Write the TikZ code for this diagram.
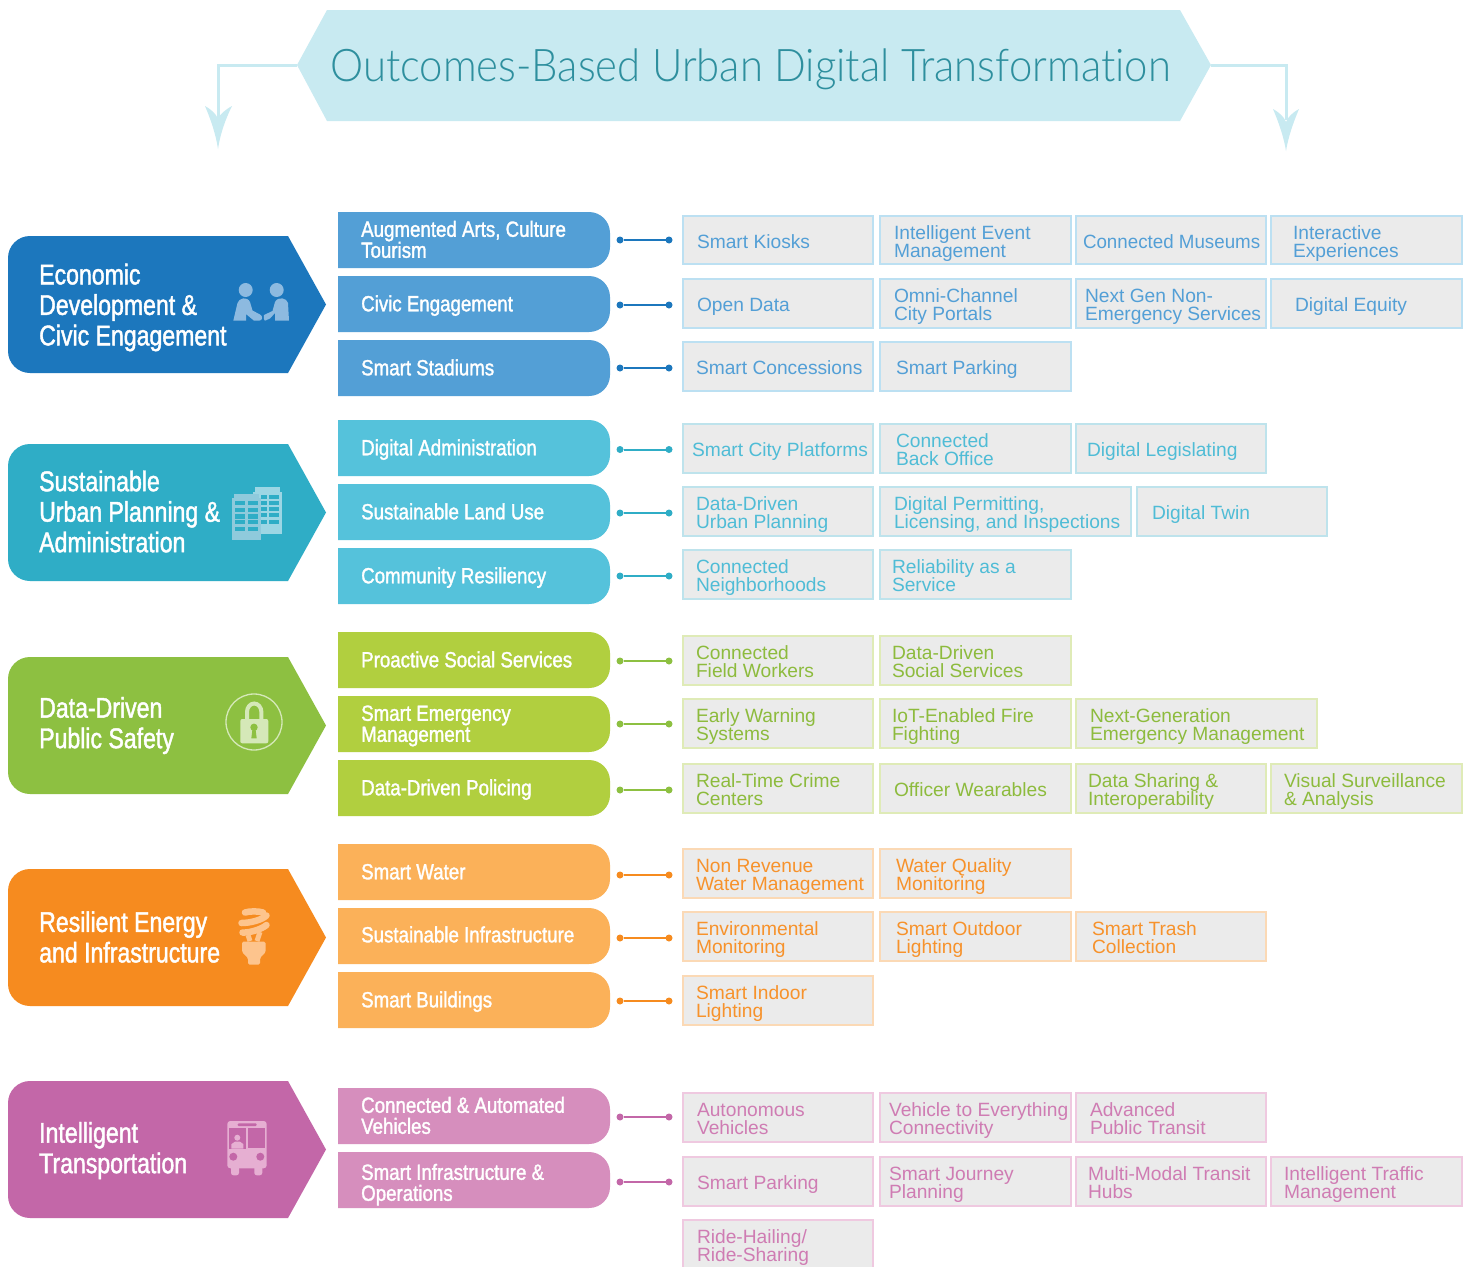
\documentclass[tikz,border=0pt]{standalone}
\usepackage{fontspec}
\setmainfont{Liberation Sans}
\newfontfamily\condf[FakeStretch=0.81,FakeBold=1.5]{Liberation Sans}
\newfontfamily\condm[FakeStretch=0.85,FakeBold=1.5]{Liberation Sans}
\newfontfamily\titlef[UprightFont=* Light,FakeStretch=0.93,Ligatures=NoCommon]{Lato}
\newcommand{\leftfont}{\condf\fontsize{28.5}{30.5}\selectfont}
\newcommand{\midfont}{\condm\fontsize{22}{21}\selectfont}
\newcommand{\boxfont}{\fontsize{19.2}{18}\selectfont}
\definecolor{tfill}{HTML}{C8EAF1}
\definecolor{ttext}{HTML}{2E8F9E}
\definecolor{g1a}{HTML}{1C77BD}\definecolor{g1p}{HTML}{539FD6}\definecolor{g1t}{HTML}{539FD6}\definecolor{g1b}{HTML}{BCE0F2}\definecolor{g1i}{HTML}{8DBAE0}
\definecolor{g2a}{HTML}{2FADC6}\definecolor{g2p}{HTML}{55C2DB}\definecolor{g2t}{HTML}{4FBCD6}\definecolor{g2b}{HTML}{BEE3EC}\definecolor{g2i}{HTML}{8FCADC}\definecolor{g2j}{HTML}{9CD6E4}
\definecolor{g3a}{HTML}{8DC041}\definecolor{g3p}{HTML}{B1CF3F}\definecolor{g3t}{HTML}{8DBB3D}\definecolor{g3b}{HTML}{DFEBB7}\definecolor{g3i}{HTML}{D5E8B8}
\definecolor{g4a}{HTML}{F68B1F}\definecolor{g4p}{HTML}{FBB159}\definecolor{g4t}{HTML}{F7922B}\definecolor{g4b}{HTML}{FBD9B5}\definecolor{g4i}{HTML}{FDC48D}
\definecolor{g5a}{HTML}{C367A8}\definecolor{g5p}{HTML}{D68EBD}\definecolor{g5t}{HTML}{CF7CB3}\definecolor{g5b}{HTML}{EFC9E0}\definecolor{g5i}{HTML}{E6AFD2}
\definecolor{boxfill}{HTML}{EBEBEB}
\tikzset{
  itembox/.style={rectangle,fill=boxfill,line width=2pt,inner sep=0pt,outer sep=0pt,font=\boxfont},
  dotnode/.style={circle,inner sep=0pt,minimum size=7pt,outer sep=0pt},
  conn/.style={line width=2pt},
  midlabel/.style={anchor=west,inner sep=0pt,text=white,font=\midfont},
  leftlabel/.style={anchor=west,inner sep=0pt,text=white,font=\leftfont},
  flowline/.style={tfill,line width=3pt}
}
% fixed-metric text block: #1 left inset, #2 width, #3 text
\newcommand{\tblock}[3]{\parbox[c]{#2}{\leftskip=#1\relax\rightskip=-60pt plus 1fil\relax\parindent=0pt\rule{0pt}{21pt}#3\rule[-5pt]{0pt}{5pt}\par}}
% id, x1, x2, y1, y2, text x, text
\newcommand{\bx}[7]{%
  \pgfmathsetmacro{\bw}{#3-#2}\pgfmathsetmacro{\bh}{#5-#4}\pgfmathsetmacro{\bi}{#6-#2}%
  \pgfmathsetmacro{\cx}{(#2+#3)/2}\pgfmathsetmacro{\cy}{(#4+#5)/2}%
  \node[itembox,draw=\gc b,text=\gc t,minimum width=\bw pt,minimum height=\bh pt] (#1) at (\cx,\cy)
    {\tblock{\bi pt}{\bw pt}{#7}};}
\def\pshift{0}
% id, top, connector y, text
\newcommand{\pill}[4]{%
  \pgfmathsetmacro{\pb}{#2+56}\pgfmathsetmacro{\pm}{#2+27.3+\pshift}%
  \fill[\gc p] (338,#2) [rounded corners=21pt] -- (610,#2) -- (610,\pb) [sharp corners] -- (338,\pb) -- cycle;
  \node[midlabel] (#1) at (361,\pm) {\tblock{0pt}{240pt}{#4}};
  \node[dotnode,fill=\gc a] (#1-a) at (620,#3) {};
  \node[dotnode,fill=\gc a] (#1-b) at (669,#3) {};
  \draw[conn,\gc a] (#1-a) -- (#1-b);}
% id, top, text y, text
\newcommand{\gro}[4]{%
  \pgfmathsetmacro{\gb}{#2+137}\pgfmathsetmacro{\gm}{#2+68.5}%
  \fill[\gc a] (288,#2) -- (326,\gm) -- (288,\gb) [rounded corners=22pt] -- (8,\gb) -- (8,#2) [sharp corners] -- cycle;
  \node[leftlabel,align=left] (#1) at (39,#3) {#4};}
\begin{document}
\begin{tikzpicture}[x=1pt,y=-1pt]
\clip (0,0) rectangle (1472,1266);
\fill[white] (0,0) rectangle (1472,1266);
% title
\fill[tfill] (297,65) -- (327,10) -- (1180,10) -- (1211,65) -- (1180,121) -- (327,121) -- cycle;
\node[inner sep=0pt,text=ttext,font=\titlef\fontsize{45}{50}\selectfont] (title) at (750.5,69) {Outcomes-Based Urban Digital Transformation};
\coordinate (tl) at (297,65);\coordinate (tr) at (1211,65);
\coordinate (al) at (218,119);\coordinate (ar) at (1286,120);
\draw[flowline] (tl) -| (al);
\draw[flowline] (tr) -| (ar);
\fill[tfill] (205,106) .. controls (212,110) and (216,114) .. (218,119) .. controls (220,114) and (225,110) .. (232,106) .. controls (225,120) and (220,135) .. (218,149) .. controls (216,135) and (211,120) .. (205,106) -- cycle;
\fill[tfill] (1273,109) .. controls (1280,113) and (1284,117) .. (1286,122) .. controls (1288,117) and (1292,113) .. (1299,109) .. controls (1293,123) and (1288,138) .. (1286,151) .. controls (1284,138) and (1279,123) .. (1273,109) -- cycle;

% ---------- group 1
\def\gc{g1}
\gro{g1}{236}{307.5}{Economic\\Development \&\\Civic Engagement}
\fill[g1i] (245.7,290) circle (7);
\fill[g1i] (276.7,290) circle (7);
\fill[g1i] (233.3,320.7) -- (237.5,303) .. controls (239,298) and (247,296) .. (250,302) -- (252.5,310.5) -- (260,314.5) .. controls (263,316) and (263,320.7) .. (259,320.7) -- (254,320.7) -- (246,314) -- (246,320.7) -- cycle;
\fill[g1i] (289,320.7) -- (288,303) .. controls (287,298) and (278,296) .. (275,302) -- (272.5,311) -- (264,315) .. controls (263.5,317) and (264,320.7) .. (265,320.7) -- (270,318.5) -- (275,313) -- (275,320.7) -- cycle;
\pill{p11}{212}{240}{Augmented Arts, Culture\\Tourism}
\pill{p12}{276}{305}{Civic Engagement}
\pill{p13}{340}{368}{Smart Stadiums}
\bx{b111}{683}{873}{216}{264}{697}{Smart Kiosks}
\bx{b112}{880}{1071}{216}{264}{894}{Intelligent Event\\Management}
\bx{b113}{1076}{1266}{216}{264}{1083}{\scalebox{0.977}[1]{Connected Museums}}
\bx{b114}{1271}{1462}{216}{264}{1293}{Interactive\\Experiences}
\bx{b121}{683}{873}{279}{328}{697}{Open Data}
\bx{b122}{880}{1071}{279}{328}{894}{Omni-Channel\\City Portals}
\bx{b123}{1076}{1266}{279}{328}{1085}{Next Gen Non-\\Emergency Services}
\bx{b124}{1271}{1462}{279}{328}{1295}{Digital Equity}
\bx{b131}{683}{873}{342}{391}{696}{Smart Concessions}
\bx{b132}{880}{1071}{342}{391}{896}{Smart Parking}

% ---------- group 2
\def\gc{g2}
\gro{g2}{444}{511.5}{Sustainable\\Urban Planning \&\\Administration}
\fill[g2j] (255,487) rectangle (280,493);
\fill[g2j] (253.3,492.3) rectangle (281.7,534);
\foreach \yy/\yz in {495/499,500.7/504.7,506.7/511,513.3/517.3,519.7/524}{
  \fill[g2a] (261,\yy) rectangle (267,\yz);
  \fill[g2a] (269,\yy) rectangle (279.3,\yz);}
\fill[g2i] (234,494) rectangle (259.3,498);
\fill[g2i] (232,498) rectangle (261,540);
\foreach \yy/\yz in {501/505,507.7/512,514/519,520/524,527/531}{
  \fill[g2a] (235,\yy) rectangle (245,\yz);
  \fill[g2a] (248,\yy) rectangle (258,\yz);}
\pill{p21}{420}{449.5}{Digital Administration}
\pill{p22}{484}{513}{Sustainable Land Use}
\pill{p23}{548}{576}{Community Resiliency}
\bx{b211}{683}{873}{424}{473}{692}{Smart City Platforms}
\bx{b212}{880}{1071}{424}{473}{896}{Connected\\Back Office}
\bx{b213}{1076}{1266}{424}{473}{1087}{Digital Legislating}
\bx{b221}{683}{873}{487}{536}{696}{Data-Driven\\Urban Planning}
\bx{b222}{880}{1131}{487}{536}{894}{Digital Permitting,\\Licensing, and Inspections}
\bx{b223}{1137}{1327}{487}{536}{1152}{Digital Twin}
\bx{b231}{683}{873}{550}{599}{696}{Connected\\Neighborhoods}
\bx{b232}{880}{1071}{550}{599}{892}{Reliability as a\\Service}

% ---------- group 3
\def\gc{g3}
\gro{g3}{657}{725.5}{Data-Driven\\Public Safety}
\draw[g3i,line width=1.3pt] (254,722) circle (28);
\draw[g3i,line width=4pt] (247,720) -- (247,712) arc[start angle=180,end angle=0,x radius=7.2,y radius=-8.5] -- (261.4,720);
\fill[g3i,rounded corners=2pt] (240.3,719) rectangle (268.3,743.3);
\fill[g3a] (254,727.3) circle (3.7);
\fill[g3a] (252.5,729) -- (255.5,729) -- (256.7,738.3) -- (251.3,738.3) -- cycle;
\pill{p31}{632}{661}{Proactive Social Services}
\pill{p32}{696}{724}{Smart Emergency\\Management}
\pill{p33}{760}{790}{Data-Driven Policing}
\bx{b311}{683}{873}{636}{685}{696}{Connected\\Field Workers}
\bx{b312}{880}{1071}{636}{685}{892}{Data-Driven\\Social Services}
\bx{b321}{683}{873}{699}{748}{696}{Early Warning\\Systems}
\bx{b322}{880}{1071}{699}{748}{892}{IoT-Enabled Fire\\Fighting}
\bx{b323}{1076}{1317}{699}{748}{1090}{Next-Generation\\Emergency Management}
\bx{b331}{683}{873}{764}{813}{696}{Real-Time Crime\\Centers}
\bx{b332}{880}{1071}{764}{813}{894}{Officer Wearables}
\bx{b333}{1076}{1266}{764}{813}{1088}{Data Sharing \&\\Interoperability}
\bx{b334}{1271}{1462}{764}{813}{1284}{Visual Surveillance\\\& Analysis}

% ---------- group 4
\def\gc{g4}
\gro{g4}{869}{937}{Resilient Energy\\and Infrastructure}
\begin{scope}[g4i,line width=6.5pt,line cap=round]
\draw (245,912.5) .. controls (250,911) and (258,911) .. (263,912.5);
\draw (241.5,923) .. controls (250,923) and (262,920) .. (266.5,915.5);
\draw (242.5,932.5) .. controls (250,933) and (262,929) .. (266.5,925);
\draw[line width=5pt,line cap=butt] (250,941) -- (248,935);
\draw[line width=5pt,line cap=butt] (257,941) -- (260,932);
\end{scope}
\fill[g4i,rounded corners=1.5pt] (242,941.7) -- (265.7,941.7) -- (265.7,952) -- (260,958) -- (260,964.7) -- (248,964.7) -- (248,958) -- (242,952) -- cycle;
\pill{p41}{844}{875}{Smart Water}
\def\pshift{-1}
\pill{p42}{908}{938}{Sustainable Infrastructure}
\def\pshift{0}
\pill{p43}{972}{1001}{Smart Buildings}
\bx{b411}{683}{873}{849}{898}{696}{Non Revenue\\Water Management}
\bx{b412}{880}{1071}{849}{898}{896}{Water Quality\\Monitoring}
\bx{b421}{683}{873}{912}{961}{696}{Environmental\\Monitoring}
\bx{b422}{880}{1071}{912}{961}{896}{Smart Outdoor\\Lighting}
\bx{b423}{1076}{1266}{912}{961}{1092}{Smart Trash\\Collection}
\bx{b431}{683}{873}{976}{1025}{696}{Smart Indoor\\Lighting}

% ---------- group 5
\def\gc{g5}
\gro{g5}{1081}{1150.5}{Intelligent\\Transportation}
\fill[g5i,rounded corners=3pt] (227.3,1121) rectangle (266.7,1168.3);
\fill[g5i,rounded corners=2.5pt] (231,1162) rectangle (239,1175.3);
\fill[g5i,rounded corners=2.5pt] (254.3,1162) rectangle (262.3,1175.3);
\fill[g5a,rounded corners=1pt] (237.7,1123.3) rectangle (256.7,1126);
\fill[g5a] (229.3,1128) rectangle (246,1148.7);
\fill[g5a] (248,1128) rectangle (265.3,1147.7);
\fill[g5i] (237.3,1137.7) circle (3);
\fill[g5i] (231.3,1148.7) -- (231.5,1144) -- (235,1141.7) -- (240,1141.7) -- (243.3,1144) -- (243.3,1148.7) -- cycle;
\fill[g5a] (233.3,1156.7) circle (4);
\fill[g5a] (260.3,1156.7) circle (4);
\pill{p51}{1088}{1117}{Connected \& Automated\\Vehicles}
\def\pshift{3}
\pill{p52}{1152}{1182}{Smart Infrastructure \&\\Operations}
\def\pshift{0}
\bx{b511}{683}{873}{1093}{1142}{697}{Autonomous\\Vehicles}
\bx{b512}{880}{1071}{1093}{1142}{889}{Vehicle to Everything\\Connectivity}
\bx{b513}{1076}{1266}{1093}{1142}{1090}{Advanced\\Public Transit}
\bx{b521}{683}{873}{1157}{1206}{697}{Smart Parking}
\bx{b522}{880}{1071}{1157}{1206}{889}{Smart Journey\\Planning}
\bx{b523}{1076}{1266}{1157}{1206}{1088}{Multi-Modal Transit\\Hubs}
\bx{b524}{1271}{1462}{1157}{1206}{1284}{Intelligent Traffic\\Management}
\bx{b531}{683}{873}{1220}{1268.5}{697}{Ride-Hailing/\\Ride-Sharing}
\end{tikzpicture}
\end{document}
